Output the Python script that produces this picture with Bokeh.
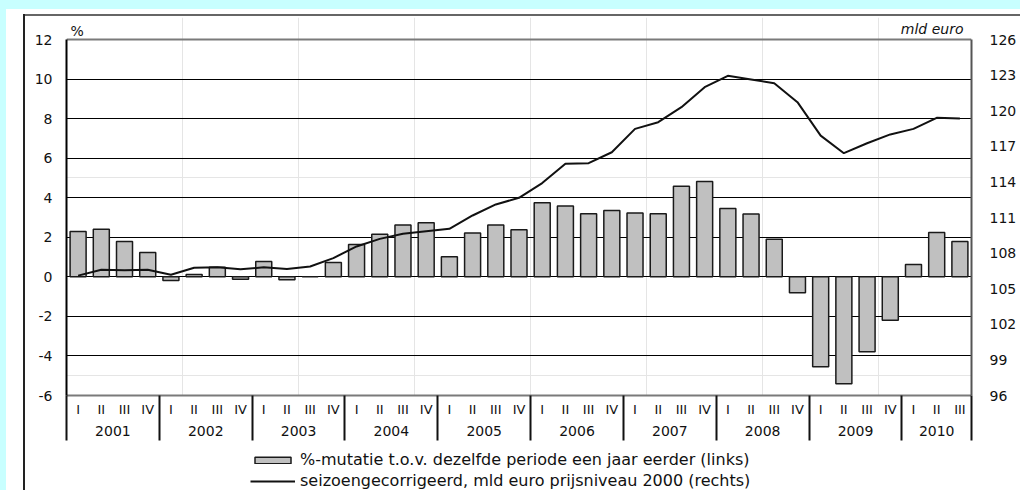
from bokeh.plotting import figure
from bokeh.layouts import column
from bokeh.models import (Range1d, LinearAxis, FixedTicker, ColumnDataSource, Legend,
                          LegendItem, Label, Grid)
from bokeh.embed import file_html
from bokeh.resources import INLINE

# ---------------- data ----------------
years = ["2001", "2002", "2003", "2004", "2005", "2006", "2007", "2008", "2009", "2010"]
quarter_names = ["I", "II", "III", "IV"]

# %-mutatie t.o.v. dezelfde periode een jaar eerder (links)
growth = [2.29, 2.41, 1.79, 1.23,
          -0.19, 0.12, 0.49, -0.12,
          0.77, -0.15, 0.0, 0.72,
          1.64, 2.15, 2.62, 2.73,
          1.01, 2.22, 2.62, 2.38,
          3.74, 3.58, 3.19, 3.36,
          3.23, 3.19, 4.58, 4.82,
          3.45, 3.18, 1.90, -0.80,
          -4.55, -5.40, -3.79, -2.19,
          0.62, 2.24, 1.79]

# seizoengecorrigeerd, mld euro prijsniveau 2000 (rechts)
level = [106.1, 106.6, 106.55, 106.6,
         106.17, 106.76, 106.81, 106.64,
         106.8, 106.67, 106.87, 107.58,
         108.56, 109.2, 109.63, 109.85,
         110.05, 111.17, 112.1, 112.66,
         113.9, 115.53, 115.58, 116.5,
         118.47, 119.03, 120.3, 121.98,
         122.94, 122.63, 122.32, 120.72,
         117.9, 116.42, 117.26, 118.0,
         118.47, 119.4, 119.35]

left_ticks = [-6, -4, -2, 0, 2, 4, 6, 8, 10, 12]
right_ticks = [96, 99, 102, 105, 108, 111, 114, 117, 120, 123, 126]

label_bars = "%-mutatie t.o.v. dezelfde periode een jaar eerder (links)"
label_line = "seizoengecorrigeerd, mld euro prijsniveau 2000 (rechts)"

# ---------------- layout constants ----------------
W, H = 1020, 490
LEG_H = 45                        # height of the legend strip at the bottom
MAIN_H = H - LEG_H
FRAME_L, FRAME_R = 66, 971
PLOT_TOP, PLOT_BOT = 39, 395      # pixel rows of 12 and -6
FRAME_TOP = 17                    # frame extends above the plot box for the unit labels
LEGEND_X = 250                    # page x of the legend swatches
FONT = "DejaVu Sans"
TXT = "#111111"
BAR_FILL, BAR_LINE = "#c0c0c0", "#1a1a1a"

lmin, lmax = left_ticks[0], left_ticks[-1]
rmin, rmax = right_ticks[0], right_ticks[-1]
extra_px = PLOT_TOP - FRAME_TOP
l_top = lmax + extra_px * (lmax - lmin) / (PLOT_BOT - PLOT_TOP)
r_top = rmax + extra_px * (rmax - rmin) / (PLOT_BOT - PLOT_TOP)

# ---------------- derived positions (half-quarter units) ----------------
n = len(growth)
xs = [2 * i + 1 for i in range(n)]
q_labels = {xs[i]: quarter_names[i % 4] for i in range(n)}
year_bounds = [8 * k for k in range(len(years))] + [2 * n]
year_centers = {}
for k, y in enumerate(years):
    nq = min(4, n - 4 * k)
    year_centers[8 * k + nq] = y

src = ColumnDataSource(dict(x=xs, growth=growth, level=level))

p = figure(width=W, height=MAIN_H, x_range=Range1d(0, 2 * n), y_range=Range1d(lmin, l_top),
           output_backend="svg", toolbar_location=None,
           x_axis_location=None, y_axis_location=None,
           min_border_left=FRAME_L, min_border_right=W - FRAME_R,
           min_border_top=FRAME_TOP, min_border_bottom=MAIN_H - PLOT_BOT,
           background_fill_color="white", border_fill_alpha=0)
p.extra_y_ranges = {"right": Range1d(rmin, r_top)}
p.outline_line_color = None

# grid (inner lines black, top border grey)
p.add_layout(Grid(dimension=1, ticker=FixedTicker(ticks=left_ticks[1:-1]),
                  grid_line_color="#000000", grid_line_width=1))
p.add_layout(Grid(dimension=1, ticker=FixedTicker(ticks=[lmax]),
                  grid_line_color="#7a7a7a", grid_line_width=2))

# left axis
ly = LinearAxis(ticker=FixedTicker(ticks=left_ticks), bounds=(lmin, lmax),
                major_label_overrides={t: str(t) for t in left_ticks},
                axis_line_color="#000000", axis_line_width=2,
                major_tick_line_color=None, minor_tick_line_color=None,
                major_tick_out=0, major_tick_in=0, major_label_standoff=14,
                major_label_text_font=FONT, major_label_text_font_size="14px",
                major_label_text_color=TXT)
p.add_layout(ly, "left")

# right axis
ry = LinearAxis(y_range_name="right", ticker=FixedTicker(ticks=right_ticks), bounds=(rmin, rmax),
                axis_line_color="#555555", axis_line_width=2,
                major_tick_line_color=None, minor_tick_line_color=None,
                major_tick_out=0, major_tick_in=0, major_label_standoff=18,
                major_label_text_font=FONT, major_label_text_font_size="14px",
                major_label_text_color=TXT)
p.add_layout(ry, "right")

# quarter labels
qa = LinearAxis(ticker=FixedTicker(ticks=xs), major_label_overrides=q_labels,
                axis_line_color="#7a7a7a", axis_line_width=2,
                major_tick_line_color=None, minor_tick_line_color=None,
                major_tick_out=0, major_tick_in=0, major_label_standoff=6,
                major_label_text_font=FONT, major_label_text_font_size="13px",
                major_label_text_color=TXT)
p.add_layout(qa, "below")

# year labels
ya = LinearAxis(ticker=FixedTicker(ticks=list(year_centers.keys())),
                major_label_overrides=year_centers,
                axis_line_color=None, major_tick_line_color=None, minor_tick_line_color=None,
                major_tick_out=0, major_tick_in=0, major_label_standoff=6,
                major_label_text_font=FONT, major_label_text_font_size="14px",
                major_label_text_color=TXT)
p.add_layout(ya, "below")

# year separators: inward ticks of an outer axis
sa = LinearAxis(ticker=FixedTicker(ticks=year_bounds),
                major_label_overrides={b: "" for b in year_bounds},
                axis_line_color=None, minor_tick_line_color=None,
                major_tick_line_color="#111111", major_tick_line_width=2,
                major_tick_in=43, major_tick_out=2, major_label_standoff=0,
                major_label_text_font_size="1px")
p.add_layout(sa, "below")

# glyphs
bars = p.vbar(x="x", top="growth", bottom=0, width=1.38, source=src,
              fill_color=BAR_FILL, line_color=BAR_LINE, line_width=1.5)
line = p.line(x="x", y="level", y_range_name="right", source=src,
              line_color="#111111", line_width=2)

# unit labels (inside the frame, above the plot box)
p.add_layout(Label(x=4, y=PLOT_BOT - 30, x_units="screen", y_units="screen", text="%",
                   text_font=FONT, text_font_size="14px", text_color=TXT,
                   text_align="left", text_baseline="middle"))
p.add_layout(Label(x=963 - FRAME_L, y=PLOT_BOT - 28, x_units="screen", y_units="screen",
                   text="mld euro", text_font=FONT, text_font_size="14px",
                   text_font_style="italic", text_color=TXT,
                   text_align="right", text_baseline="middle"))

# ---------------- legend strip ----------------
# The legend strip refers to the same two series; its renderers are hidden so only
# the legend itself is drawn.
lf = figure(width=W, height=LEG_H, x_range=Range1d(0, 2 * n), y_range=Range1d(lmin, lmax),
            output_backend="svg", toolbar_location=None,
            x_axis_location=None, y_axis_location=None,
            min_border_left=0, min_border_right=0, min_border_top=0, min_border_bottom=0,
            background_fill_alpha=0, border_fill_alpha=0)
lf.outline_line_color = None
lf.xgrid.visible = False
lf.ygrid.visible = False
lbar = lf.vbar(x="x", top="growth", bottom=0, width=1.38, source=src,
               fill_color=BAR_FILL, line_color=BAR_LINE, line_width=1.5, visible=False)
lline = lf.line(x="x", y="level", source=src, line_color="#111111", line_width=2,
                visible=False)
legend = Legend(items=[LegendItem(label=label_bars, renderers=[lbar]),
                       LegendItem(label=label_line, renderers=[lline])],
                location=(LEGEND_X - FRAME_L, 0), glyph_width=45, glyph_height=8,
                label_height=19, spacing=2, padding=0, margin=0,
                border_line_color=None, background_fill_alpha=0,
                inactive_fill_alpha=0, click_policy="none",
                label_standoff=5, label_text_font=FONT, label_text_font_size="16px",
                label_text_color=TXT)
lf.add_layout(legend, "center")

page = column(p, lf, spacing=0)
# page background: cyan strips and the outer frame lines of the pasted figure
page.styles = {
    "background": ("linear-gradient(#c8ffff,#c8ffff) 0 0 / 100% 9px no-repeat, "
                   "linear-gradient(#c8ffff,#c8ffff) 0 0 / 6px 100% no-repeat, "
                   "linear-gradient(#222,#222) 23px 14px / 2px 100% no-repeat, "
                   "linear-gradient(#666,#666) 23px 14px / 100% 2px no-repeat, "
                   "white")
}

open("out.html", "w").write(file_html(page, INLINE))
